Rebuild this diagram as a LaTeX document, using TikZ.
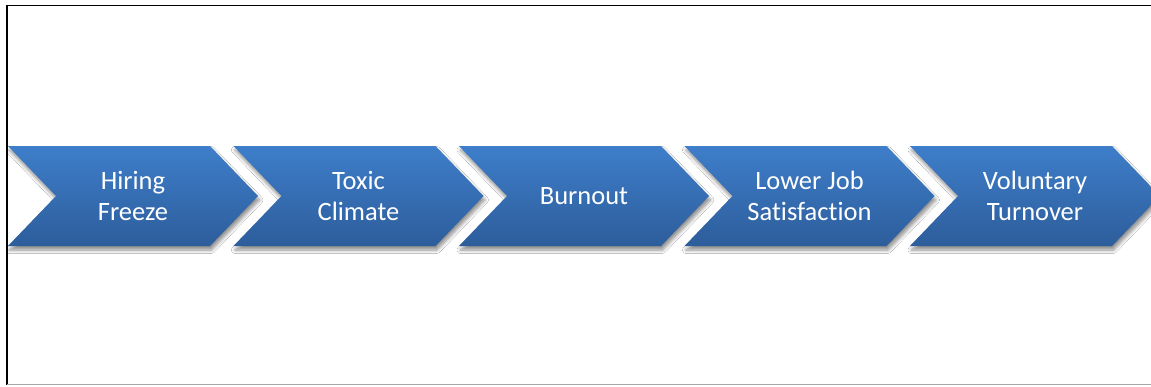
\documentclass[tikz,border=0pt]{standalone}
\usepackage{fontspec}
\setmainfont{Carlito}[Ligatures=NoCommon]
\usetikzlibrary{shadows.blur}
\definecolor{chevtop}{RGB}{62,126,202}
\definecolor{chevbot}{RGB}{45,93,155}
\definecolor{frameline}{RGB}{0,0,0}
\tikzset{
  chevshape/.style={top color=chevtop, bottom color=chevbot, draw=none,
    blur shadow={shadow xshift=1.5pt, shadow yshift=-4pt, shadow blur steps=6, shadow opacity=45, shadow blur radius=3.5pt}},
  chevlabel/.style={text=white, align=center, inner sep=0pt,
    font=\fontsize{26.5}{31}\selectfont}
}
\begin{document}
\begin{tikzpicture}[x=1pt,y=-1pt]
\useasboundingbox (0,0) rectangle (1151,386);
\clip (0,0) rectangle (1151,386);
\fill[white] (0,0) rectangle (1151,386);
% frame
\draw[frameline, line width=1.6pt] (1151,5.5) -- (7,5.5);
\draw[frameline, line width=2.4pt] (7,4.7) -- (7,384.5);
\draw[gray!70, line width=1pt] (7,384.8) -- (1151,384.8);
% chevrons
\foreach \i/\nm/\txt in {0/hf/{Hiring\\Freeze},1/tc/{Toxic\\Climate},2/bo/{Burnout},3/lj/{Lower Job\\Satisfaction},4/vt/{Voluntary\\Turnover}}{
  \pgfmathsetmacro{\L}{8+225.5*\i}
  \path[chevshape] (\L,146) -- (\L+202,146) -- (\L+250,196) -- (\L+202,246) -- (\L,246) -- (\L+48,196) -- cycle;
  \node[chevlabel] (\nm) at (\L+125,196) {\txt};
}
\end{tikzpicture}
\end{document}
